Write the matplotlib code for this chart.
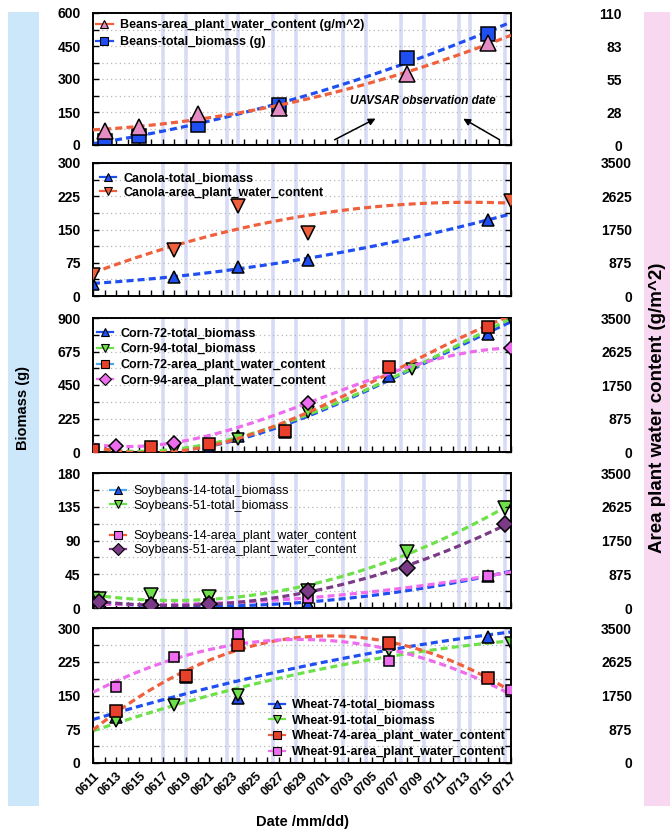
import numpy as np
import matplotlib
matplotlib.use("Agg")
import matplotlib.pyplot as plt
from matplotlib.lines import Line2D
from matplotlib.patches import Rectangle
from matplotlib.ticker import FixedLocator, MultipleLocator

plt.rcParams["font.family"] = ["Liberation Sans", "DejaVu Sans"]

# ---- x axis: days since 06/11 ----
date_labels = ["0611", "0613", "0615", "0617", "0619", "0621", "0623", "0625", "0627",
               "0629", "0701", "0703", "0705", "0707", "0709", "0711", "0713", "0715", "0717"]
uavsar_days = [6, 8, 11.5, 12.5, 15.5, 17.5, 21.5, 23.5, 26.5, 28.5, 31.5, 32.5, 35.5]

# ---- Beans ----
beans_days = [1, 4, 9, 16, 27, 34]
beans_biomass = [20, 42, 90, 180, 394, 504]
beans_apwc = [11.8, 15.1, 25.6, 31.0, 59.4, 85.0]

# ---- Canola ----
canola_bio_days = [0, 7, 12.5, 18.5, 34]
canola_biomass = [28, 43, 65, 82, 172]
canola_apwc_days = [0, 7, 12.5, 18.5, 36]
canola_apwc = [544, 1202, 2360, 1658, 2500]

# ---- Corn ----
corn72_bio_days = [0, 5, 10, 12.5, 16.5, 25.5, 34]
corn72_biomass = [18, 27, 27, 107, 134, 510, 795]
corn94_bio_days = [2, 5, 7, 12.5, 18.5, 27.5, 36]
corn94_biomass = [8, 12, 15, 85, 269, 555, 900]
corn72_apwc_days = [0, 5, 10, 16.5, 25.5, 34]
corn72_apwc = [61, 131, 200, 540, 2220, 3265]
corn94_apwc_days = [2, 7, 18.5, 36]
corn94_apwc = [148, 244, 1280, 2716]

# ---- Soybeans ----
soy14_bio_days = [0.5, 5, 10, 18.5, 34]
soy14_biomass = [5, 5, 5, 5, 43]
soy51_bio_days = [0.5, 5, 10, 18.5, 27, 35.5]
soy51_biomass = [11.6, 17, 14.7, 22.3, 75, 134]
soy14_apwc_days = [0.5, 5, 10, 18.5, 34]
soy14_apwc = [100, 90, 110, 270, 830]
soy51_apwc_days = [0.5, 5, 10, 18.5, 27, 35.5]
soy51_apwc = [156, 70, 110, 440, 1042, 2171]

# ---- Wheat ----
wheat74_days = [2, 8, 12.5, 25.5, 34]
wheat74_biomass = [103, 192, 144, 265, 280]
wheat74_apwc = [1346, 2267, 3048, 3108, 2213]
wheat91_days = [2, 7, 12.5, 25.5, 36]
wheat91_biomass = [93, 130, 151, 251, 266]
wheat91_apwc = [1979, 2761, 3343, 2648, 1893]

# ---- axis scales ----
beans_left_ticks = [0, 150, 300, 450, 600]
beans_right_ticks = [0, 27.5, 55, 82.5, 110]
beans_right_labels = ["0", "28", "55", "83", "110"]
apwc_ticks = [0, 875, 1750, 2625, 3500]
canola_left_ticks = [0, 75, 150, 225, 300]
corn_left_ticks = [0, 225, 450, 675, 900]
soy_left_ticks = [0, 45, 90, 135, 180]
wheat_left_ticks = [0, 75, 150, 225, 300]

BLUE = "#1f4ff0"
RED = "#f0603c"
GREEN = "#6ee04a"
MAGENTA = "#ee6cee"
PURPLE = "#7a3a86"
PINK_FACE = "#e48cc4"

W, H = 670, 833
fig = plt.figure(figsize=(W / 100, H / 100), dpi=100)

# coloured side strips
fig.patches.append(Rectangle((8 / W, 27 / H), 31 / W, 794 / H, transform=fig.transFigure,
                             facecolor="#cce6fa", edgecolor="none", zorder=0))
fig.patches.append(Rectangle((644 / W, 27 / H), 26 / W, 794 / H, transform=fig.transFigure,
                             facecolor="#f8d8f0", edgecolor="none", zorder=0))

ax_left, ax_right = 93, 511
panel_rows = [(13, 145), (163, 296), (318, 452), (473, 608), (628, 763)]


def make_axes(top, bottom):
    ax = fig.add_axes([ax_left / W, 1 - bottom / H, (ax_right - ax_left) / W, (bottom - top) / H])
    ax2 = ax.twinx()
    ax.set_xlim(0, 36)
    for d in uavsar_days:
        ax.axvline(d, color="#d8dbf6", lw=2.6, zorder=0)
    ax.xaxis.set_major_locator(MultipleLocator(2))
    ax.xaxis.set_minor_locator(MultipleLocator(1))
    ax.tick_params(axis="x", which="both", direction="in", length=4, width=1, labelbottom=False)
    for a in (ax, ax2):
        for s in a.spines.values():
            s.set_linewidth(1.2)
    return ax, ax2


def style_y(ax, ticks, side_ax, rticks, rlabels=None, rpad=87):
    ax.set_ylim(ticks[0], ticks[-1])
    ax.yaxis.set_major_locator(FixedLocator(ticks))
    ax.yaxis.set_minor_locator(MultipleLocator((ticks[1] - ticks[0]) / 2))
    ax.tick_params(axis="y", which="both", direction="in", length=4, width=1, pad=9,
                   labelsize=10)
    for t in ax.get_yticklabels():
        t.set_fontweight("bold")
    ax.grid(axis="y", which="both", linestyle=(0, (1, 2.5)), color="#b5b5b5", lw=0.9, zorder=0)
    side_ax.set_ylim(rticks[0], rticks[-1])
    side_ax.yaxis.set_major_locator(FixedLocator(rticks))
    side_ax.yaxis.set_minor_locator(MultipleLocator((rticks[1] - rticks[0]) / 2))
    if rlabels is not None:
        side_ax.set_yticklabels(rlabels)
    side_ax.tick_params(axis="y", which="both", direction="in", length=4, width=1, pad=rpad,
                        labelsize=10)
    for t in side_ax.get_yticklabels():
        t.set_fontweight("bold")
        t.set_horizontalalignment("right")


def series(ax, days, vals, marker, face, line, ms, deg=2):
    coef = np.polyfit(days, vals, deg)
    xs = np.linspace(0, 36, 200)
    ax.plot(xs, np.polyval(coef, xs), color=line, lw=2.3, ls=(0, (2.2, 1.3)), zorder=3)
    ax.plot(days, vals, ls="none", marker=marker, ms=ms, mfc=face, mec="black", mew=1.1, zorder=4)


def handle(marker, face, line, ms=6):
    return Line2D([], [], color=line, lw=1.6, marker=marker, ms=ms, mfc=face, mec="black", mew=0.8)


def legend(ax, handles, labels, x, y, size=9, weight="bold", spacing=0.4):
    lg = ax.legend(handles, labels, loc="upper left", bbox_to_anchor=(x, y), frameon=False,
                   borderaxespad=0, borderpad=0, handlelength=1.3, handletextpad=0.6,
                   labelspacing=spacing, prop={"size": size, "weight": weight})
    lg.set_zorder(10)
    return lg


# ---- panel 1: Beans ----
ax, ax2 = make_axes(*panel_rows[0])
style_y(ax, beans_left_ticks, ax2, beans_right_ticks, beans_right_labels, rpad=80)
series(ax, beans_days, beans_biomass, "s", BLUE, BLUE, 10)
series(ax2, beans_days, beans_apwc, "^", PINK_FACE, RED, 12)
legend(ax2, [handle("^", PINK_FACE, RED), handle("s", BLUE, BLUE)],
       ["Beans-area_plant_water_content (g/m^2)", "Beans-total_biomass (g)"],
       0.008, 0.955, spacing=0.4)
ax.text(0.615, 0.335, "UAVSAR observation date", transform=ax.transAxes, fontsize=8.5,
        fontweight="bold", fontstyle="italic", va="center", zorder=6)
for start, end in [((0.572, 0.03), (0.682, 0.21)), ((0.978, 0.03), (0.880, 0.21))]:
    ax.annotate("", xy=end, xytext=start, xycoords="axes fraction", textcoords="axes fraction",
                arrowprops=dict(arrowstyle="-|>", color="black", lw=1.1, mutation_scale=10),
                zorder=6)

# ---- panel 2: Canola ----
ax, ax2 = make_axes(*panel_rows[1])
style_y(ax, canola_left_ticks, ax2, apwc_ticks)
series(ax, canola_bio_days, canola_biomass, "^", BLUE, BLUE, 9)
series(ax2, canola_apwc_days, canola_apwc, "v", RED, RED, 10)
legend(ax2, [handle("^", BLUE, BLUE), handle("v", RED, RED)],
       ["Canola-total_biomass", "Canola-area_plant_water_content"], 0.016, 0.93, spacing=0.2)

# ---- panel 3: Corn ----
ax, ax2 = make_axes(*panel_rows[2])
style_y(ax, corn_left_ticks, ax2, apwc_ticks)
series(ax, corn72_bio_days, corn72_biomass, "^", BLUE, BLUE, 8, deg=3)
series(ax, corn94_bio_days, corn94_biomass, "v", GREEN, GREEN, 8, deg=3)
series(ax2, corn72_apwc_days, corn72_apwc, "s", "#e8402a", RED, 8, deg=3)
series(ax2, corn94_apwc_days, corn94_apwc, "D", MAGENTA, MAGENTA, 7, deg=3)
legend(ax2, [handle("^", BLUE, BLUE), handle("v", GREEN, GREEN),
             handle("s", "#e8402a", "#4aa8f0"), handle("D", MAGENTA, MAGENTA)],
       ["Corn-72-total_biomass", "Corn-94-total_biomass",
        "Corn-72-area_plant_water_content", "Corn-94-area_plant_water_content"],
       0.01, 0.93, spacing=0.3)

# ---- panel 4: Soybeans ----
ax, ax2 = make_axes(*panel_rows[3])
style_y(ax, soy_left_ticks, ax2, apwc_ticks)
series(ax, soy14_bio_days, soy14_biomass, "^", BLUE, BLUE, 8)
series(ax, soy51_bio_days, soy51_biomass, "v", GREEN, GREEN, 10)
series(ax2, soy14_apwc_days, soy14_apwc, "s", MAGENTA, MAGENTA, 7)
series(ax2, soy51_apwc_days, soy51_apwc, "D", PURPLE, PURPLE, 8)
lg1 = legend(ax2, [handle("^", BLUE, "#4aa8f0"), handle("v", GREEN, GREEN)],
             ["Soybeans-14-total_biomass", "Soybeans-51-total_biomass"],
             0.04, 0.91, size=9, weight="normal", spacing=0.2)
ax2.add_artist(lg1)
legend(ax2, [handle("s", MAGENTA, RED), handle("D", PURPLE, PURPLE)],
       ["Soybeans-14-area_plant_water_content", "Soybeans-51-area_plant_water_content"],
       0.04, 0.578, size=9, weight="normal", spacing=0.2)

# ---- panel 5: Wheat ----
ax, ax2 = make_axes(*panel_rows[4])
style_y(ax, wheat_left_ticks, ax2, apwc_ticks)
series(ax, wheat74_days, wheat74_biomass, "^", BLUE, BLUE, 8)
series(ax, wheat91_days, wheat91_biomass, "v", GREEN, GREEN, 9)
series(ax2, wheat74_days, wheat74_apwc, "s", "#e8402a", RED, 8)
series(ax2, wheat91_days, wheat91_apwc, "s", MAGENTA, MAGENTA, 7)
legend(ax2, [handle("^", BLUE, BLUE), handle("v", GREEN, GREEN),
             handle("s", "#e8402a", RED), handle("s", MAGENTA, MAGENTA)],
       ["Wheat-74-total_biomass", "Wheat-91-total_biomass",
        "Wheat-74-area_plant_water_content", "Wheat-91-area_plant_water_content"],
       0.42, 0.475, spacing=0.3)
ax.set_xticks(np.arange(0, 37, 2))
ax.set_xticklabels(date_labels)
ax.tick_params(axis="x", labelbottom=True, labelsize=9, pad=5)
for t in ax.get_xticklabels():
    t.set_rotation(45)
    t.set_ha("right")
    t.set_va("top")
    t.set_rotation_mode("anchor")
    t.set_fontweight("bold")

fig.text(23.5 / W, 0.51, "Biomass (g)", rotation=90, ha="center", va="center",
         fontsize=10.5, fontweight="bold")
fig.text(657 / W, 0.51, "Area plant water content (g/m^2)", rotation=90, ha="center",
         va="center", fontsize=13.5, fontweight="bold")
fig.text(303 / W, 11 / H, "Date /mm/dd)", ha="center", va="center", fontsize=10.5,
         fontweight="bold")

fig.savefig("out.png", dpi=100)
